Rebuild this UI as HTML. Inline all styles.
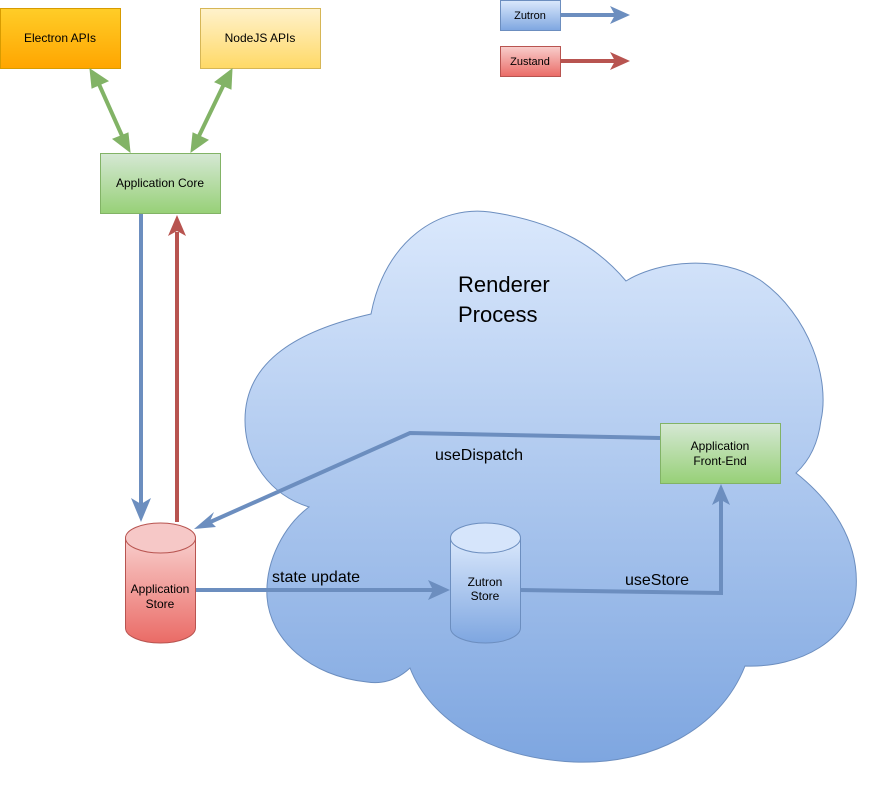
<!DOCTYPE html>
<html><head><style>body{margin:0;background:#fff}svg{display:block}</style></head><body>
<svg width="881" height="794" xmlns="http://www.w3.org/2000/svg" font-family="Liberation Sans, sans-serif">
<defs>
<linearGradient id="cl" x1="0" y1="0" x2="0" y2="1"><stop offset="0" stop-color="#dae8fc"/><stop offset="1" stop-color="#7ea6e0"/></linearGradient>
<linearGradient id="or" x1="0" y1="0" x2="0" y2="1"><stop offset="0" stop-color="#ffcd28"/><stop offset="1" stop-color="#ffa500"/></linearGradient>
<linearGradient id="ye" x1="0" y1="0" x2="0" y2="1"><stop offset="0" stop-color="#fff2cc"/><stop offset="1" stop-color="#ffd966"/></linearGradient>
<linearGradient id="gr" x1="0" y1="0" x2="0" y2="1"><stop offset="0" stop-color="#d5e8d4"/><stop offset="1" stop-color="#97d077"/></linearGradient>
<linearGradient id="rd" x1="0" y1="0" x2="0" y2="1"><stop offset="0" stop-color="#f8cecc"/><stop offset="1" stop-color="#ea6b66"/></linearGradient>
<linearGradient id="bl" x1="0" y1="0" x2="0" y2="1"><stop offset="0" stop-color="#dae8fc"/><stop offset="1" stop-color="#7ea6e0"/></linearGradient>
</defs>
<path d="M371,314 C385,240 440,205 490,212 C560,222 600,250 626,281 C660,260 720,255 760,280 C810,315 830,380 821,420 C818,445 808,462 796,473 C830,500 860,540 856,590 C852,640 800,668 745,666 C720,730 650,765 574,762 C490,758 430,720 410,668 C395,682 380,684 367,682 C310,676 270,640 267,597 C265,560 285,525 309,507 C270,495 245,460 245,420 C245,360 300,330 371,314 Z" fill="url(#cl)" stroke="#6c8ebf"/>
<text x="458" y="292" font-size="22">Renderer</text>
<text x="458" y="322" font-size="22">Process</text>

<rect x="0.5" y="8.5" width="120" height="60" fill="url(#or)" stroke="#d79b00"/>
<text x="60" y="42" font-size="12" text-anchor="middle">Electron APIs</text>
<rect x="200.5" y="8.5" width="120" height="60" fill="url(#ye)" stroke="#d6b656"/>
<text x="260" y="42" font-size="12" text-anchor="middle">NodeJS APIs</text>
<rect x="100.5" y="153.5" width="120" height="60" fill="url(#gr)" stroke="#82b366"/>
<text x="160" y="187" font-size="12" text-anchor="middle">Application Core</text>

<g stroke="#82b366" stroke-width="4" fill="#82b366">
<line x1="98" y1="82" x2="123" y2="138"/>
<polygon points="90,69 108,81 92,88" stroke-width="1"/>
<polygon points="130,152 113,139 128,133" stroke-width="1"/>
<line x1="225" y1="82" x2="198" y2="138"/>
<polygon points="232,69 231,89 215,82" stroke-width="1"/>
<polygon points="191,152 193,133 208,140" stroke-width="1"/>
</g>

<rect x="500.5" y="0.5" width="60" height="30" fill="url(#bl)" stroke="#6c8ebf"/>
<text x="530" y="19" font-size="11" text-anchor="middle">Zutron</text>
<line x1="560" y1="15" x2="615" y2="15" stroke="#6c8ebf" stroke-width="4"/>
<polygon points="630,15 610,6 615,15 610,24" fill="#6c8ebf"/>
<rect x="500.5" y="46.5" width="60" height="30" fill="url(#rd)" stroke="#b85450"/>
<text x="530" y="65" font-size="11" text-anchor="middle">Zustand</text>
<line x1="560" y1="61" x2="615" y2="61" stroke="#b85450" stroke-width="4"/>
<polygon points="630,61 610,52 615,61 610,70" fill="#b85450"/>

<line x1="141" y1="214" x2="141" y2="505" stroke="#6c8ebf" stroke-width="4"/>
<polygon points="141,522 131,498 141,504 151,498" fill="#6c8ebf"/>
<line x1="177" y1="522" x2="177" y2="232" stroke="#b85450" stroke-width="4"/>
<polygon points="177,215 168,236 177,231 186,236" fill="#b85450"/>

<polyline points="660,438 410,433 208,523" fill="none" stroke="#6c8ebf" stroke-width="4"/>
<polygon points="194,529 214,512 210,521 216,527" fill="#6c8ebf"/>
<text x="435" y="460" font-size="16">useDispatch</text>

<line x1="196" y1="590" x2="436" y2="590" stroke="#6c8ebf" stroke-width="4"/>
<polygon points="450,590 428,580 433,590 428,600" fill="#6c8ebf"/>
<text x="272" y="582" font-size="16">state update</text>

<polyline points="520,590 721,593 721,500" fill="none" stroke="#6c8ebf" stroke-width="4"/>
<polygon points="721,484 712,505 721,500 730,505" fill="#6c8ebf"/>
<text x="625" y="585" font-size="16">useStore</text>

<path d="M125.5,538 v90 a35,15 0 0 0 70,0 v-90" fill="url(#rd)" stroke="#b85450"/>
<ellipse cx="160.5" cy="538" rx="35" ry="15" fill="#f6c8c7" stroke="#b85450"/>
<text x="160" y="593" font-size="12" text-anchor="middle">Application</text>
<text x="160" y="608" font-size="12" text-anchor="middle">Store</text>

<path d="M450.5,538 v90 a35,15 0 0 0 70,0 v-90" fill="url(#bl)" stroke="#6c8ebf"/>
<ellipse cx="485.5" cy="538" rx="35" ry="15" fill="#d6e5fb" stroke="#6c8ebf"/>
<text x="485" y="586" font-size="12" text-anchor="middle">Zutron</text>
<text x="485" y="600" font-size="12" text-anchor="middle">Store</text>

<rect x="660.5" y="423.5" width="120" height="60" fill="url(#gr)" stroke="#82b366"/>
<text x="720" y="450" font-size="12" text-anchor="middle">Application</text>
<text x="720" y="465" font-size="12" text-anchor="middle">Front-End</text>
</svg>
</body></html>
